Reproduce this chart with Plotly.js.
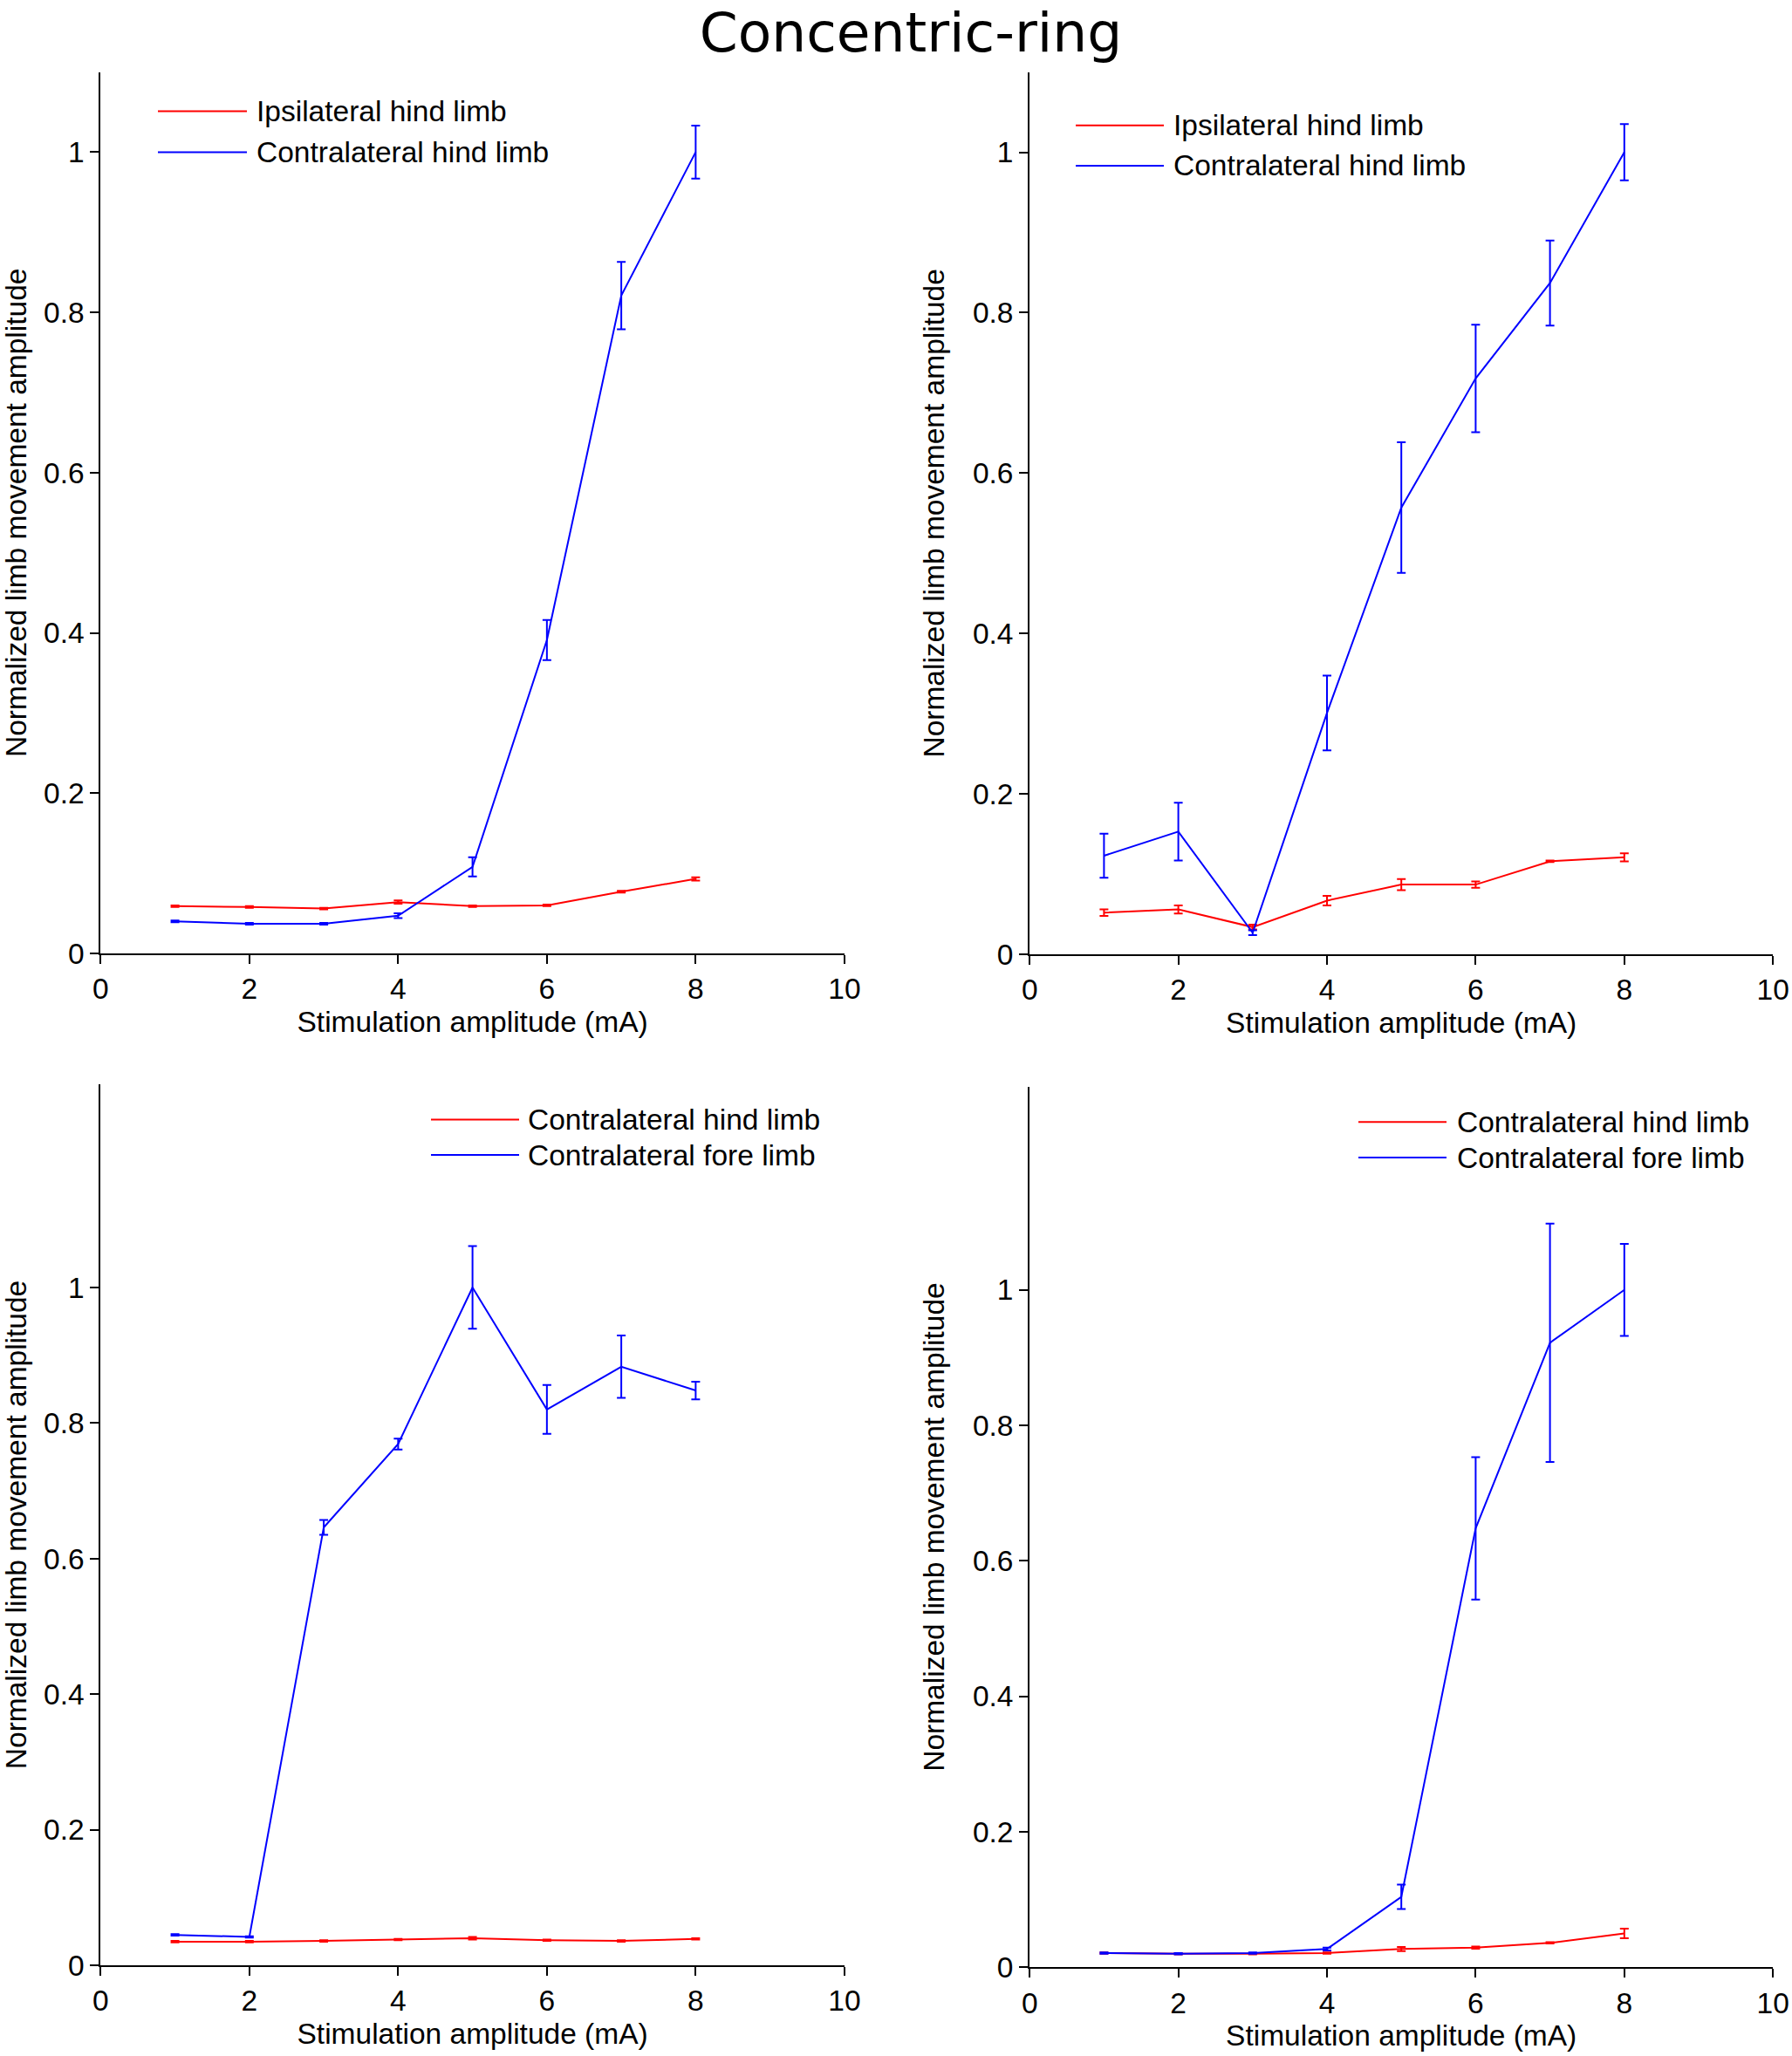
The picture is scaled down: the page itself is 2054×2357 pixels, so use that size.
<!DOCTYPE html>
<html>
<head>
<meta charset="utf-8">
<script src="https://cdn.plot.ly/plotly-3.0.1.min.js"></script>
<style>html,body{margin:0;padding:0;background:#fff;}#chart{width:2054px;height:2357px;}</style>
</head>
<body>
<div id="chart"></div>
<script>
// ---------- data ----------
const amplitude = [1, 2, 3, 4, 5, 6, 7, 8];
const xTicks = [0, 2, 4, 6, 8, 10];
const yTicks = [0, 0.2, 0.4, 0.6, 0.8, 1];

const chartTitle = "Concentric-ring";
const xLabel = "Stimulation amplitude (mA)";
const yLabel = "Normalized limb movement amplitude";

// Panel A (top-left)
const aNames = ["Ipsilateral hind limb", "Contralateral hind limb"];
const aRed = [0.059, 0.058, 0.056, 0.064, 0.059, 0.060, 0.077, 0.093];
const aRedErr = [0.001, 0.001, 0.001, 0.002, 0.001, 0.001, 0.001, 0.002];
const aBlue = [0.040, 0.037, 0.037, 0.047, 0.108, 0.391, 0.821, 1.0];
const aBlueErr = [0.001, 0.001, 0.001, 0.003, 0.012, 0.025, 0.042, 0.033];

// Panel B (top-right)
const bNames = ["Ipsilateral hind limb", "Contralateral hind limb"];
const bRed = [0.052, 0.056, 0.034, 0.067, 0.087, 0.087, 0.116, 0.121];
const bRedErr = [0.004, 0.005, 0.003, 0.006, 0.007, 0.004, 0.001, 0.005];
const bBlue = [0.123, 0.153, 0.027, 0.301, 0.557, 0.718, 0.837, 1.0];
const bBlueErr = [0.0275, 0.036, 0.003, 0.0466, 0.0815, 0.067, 0.053, 0.035];

// Panel C (bottom-left)
const cNames = ["Contralateral hind limb", "Contralateral fore limb"];
const cRed = [0.035, 0.035, 0.036, 0.038, 0.040, 0.037, 0.036, 0.039];
const cRedErr = [0.001, 0.001, 0.001, 0.001, 0.002, 0.001, 0.001, 0.001];
const cBlue = [0.045, 0.042, 0.646, 0.769, 1.0, 0.820, 0.883, 0.848];
const cBlueErr = [0.001, 0.001, 0.011, 0.008, 0.061, 0.036, 0.046, 0.013];

// Panel D (bottom-right)
const dNames = ["Contralateral hind limb", "Contralateral fore limb"];
const dRed = [0.021, 0.020, 0.020, 0.021, 0.027, 0.029, 0.036, 0.050];
const dRedErr = [0.001, 0.001, 0.001, 0.001, 0.003, 0.0015, 0.001, 0.007];
const dBlue = [0.021, 0.020, 0.021, 0.027, 0.104, 0.648, 0.922, 1.0];
const dBlueErr = [0.001, 0.001, 0.001, 0.002, 0.018, 0.105, 0.176, 0.068];

// ---------- styling ----------
const W = 2054, H = 2357;
const RED = "rgb(255,0,0)", BLUE = "rgb(0,0,255)";
const FONT = "Liberation Sans, Arial, sans-serif";
const FS = 33.5;

function series(x, y, err, color, name, xa, ya) {
  return {
    type: "scatter", mode: "lines", x: x, y: y, name: name,
    xaxis: xa, yaxis: ya, showlegend: false,
    line: {color: color, width: 2},
    error_y: {type: "data", array: err, visible: true, color: color, thickness: 2, width: 5}
  };
}

const panels = [
  {xa: "x",  ya: "y",  red: aRed, redErr: aRedErr, blue: aBlue, blueErr: aBlueErr, names: aNames,
   xd: [115.3, 967.9], yd: [1093.0, 82.5], ymax: 1.1,
   leg: {x0: 181, x1: 283, tx: 292, y1: 127.5, y2: 174.4}},
  {xa: "x2", ya: "y2", red: bRed, redErr: bRedErr, blue: bBlue, blueErr: bBlueErr, names: bNames,
   xd: [1180.2, 2032.2], yd: [1094.1, 82.6], ymax: 1.1,
   leg: {x0: 1233, x1: 1334, tx: 1343, y1: 143.8, y2: 189.9}},
  {xa: "x3", ya: "y3", red: cRed, redErr: cRedErr, blue: cBlue, blueErr: cBlueErr, names: cNames,
   xd: [115.3, 967.9], yd: [2253.1, 1242.8], ymax: 1.3,
   leg: {x0: 494, x1: 595, tx: 603, y1: 1283.4, y2: 1324.0}},
  {xa: "x4", ya: "y4", red: dRed, redErr: dRedErr, blue: dBlue, blueErr: dBlueErr, names: dNames,
   xd: [1180.2, 2032.2], yd: [2255.3, 1245.8], ymax: 1.3,
   leg: {x0: 1557, x1: 1658, tx: 1668, y1: 1286.3, y2: 1327.0}}
];

const traces = [];
const shapes = [];
const annotations = [];
const layout = {
  width: W, height: H,
  margin: {l: 0, r: 0, t: 0, b: 0, pad: 0},
  paper_bgcolor: "#ffffff", plot_bgcolor: "#ffffff",
  showlegend: false,
  font: {family: FONT, size: FS, color: "#000"},
  title: {text: chartTitle, x: 1044 / W, xanchor: "center", y: 1 - 37 / H, yanchor: "middle",
          xref: "paper", yref: "paper",
          font: {family: "DejaVu Sans, Verdana, sans-serif", size: 63, color: "#000"}}
};

const px = v => v / W;
const py = v => 1 - v / H;

panels.forEach((p, i) => {
  traces.push(series(amplitude, p.red, p.redErr, RED, p.names[0], p.xa, p.ya));
  traces.push(series(amplitude, p.blue, p.blueErr, BLUE, p.names[1], p.xa, p.ya));
  const xKey = i === 0 ? "xaxis" : "xaxis" + (i + 1);
  const yKey = i === 0 ? "yaxis" : "yaxis" + (i + 1);
  const common = {
    showline: true, linecolor: "#000", linewidth: 2,
    ticks: "outside", ticklen: 10, tickwidth: 2, tickcolor: "#000",
    showgrid: false, zeroline: false, fixedrange: true,
    tickfont: {family: FONT, size: FS, color: "#000"}
  };
  layout[xKey] = Object.assign({}, common, {
    domain: [px(p.xd[0]), px(p.xd[1])], anchor: p.ya,
    range: [0, 10], tickmode: "array", tickvals: xTicks,
    title: {text: xLabel, font: {family: FONT, size: FS, color: "#000"}, standoff: 8}
  });
  layout[yKey] = Object.assign({}, common, {
    domain: [py(p.yd[0]), py(p.yd[1])], anchor: p.xa,
    range: [0, p.ymax], tickmode: "array", tickvals: yTicks,
    title: {text: yLabel, font: {family: FONT, size: FS, color: "#000"}, standoff: 22}
  });
  // legend (drawn as line + label)
  const L = p.leg;
  [[L.y1, RED, p.names[0]], [L.y2, BLUE, p.names[1]]].forEach(r => {
    shapes.push({type: "line", xref: "paper", yref: "paper",
      x0: px(L.x0), x1: px(L.x1), y0: py(r[0]), y1: py(r[0]),
      line: {color: r[1], width: 2}});
    annotations.push({xref: "paper", yref: "paper", x: px(L.tx), y: py(r[0]),
      xanchor: "left", yanchor: "middle", showarrow: false, text: r[2],
      font: {family: FONT, size: FS, color: "#000"}});
  });
});
layout.shapes = shapes;
layout.annotations = annotations;

Plotly.newPlot("chart", traces, layout, {staticPlot: true, displayModeBar: false});
</script>
</body>
</html>
